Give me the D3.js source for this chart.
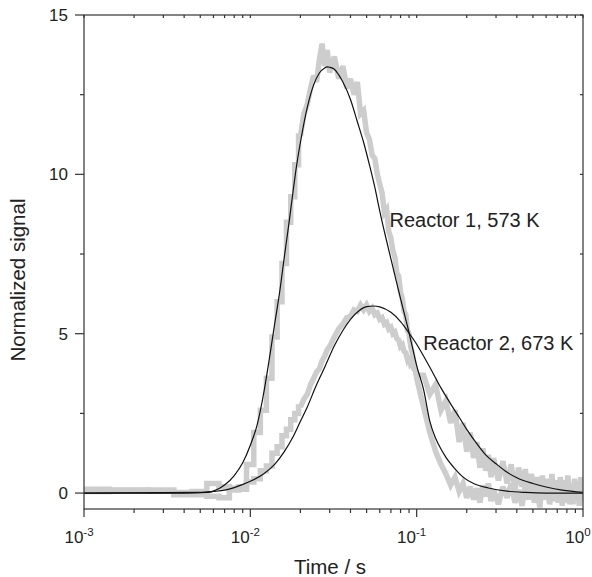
<!DOCTYPE html>
<html lang="en">
<head>
<meta charset="UTF-8">
<title>Reactor signals</title>
<script src="https://d3js.org/d3.v7.min.js"></script>
<style>
  body { margin: 0; background: #fff; }
  svg text { font-family: "Liberation Sans", Arial, sans-serif; fill: #222; }
</style>
</head>
<body>
<div id="chartArea"></div>
<script>
// sampling times of the measured curves (s)
const timeS = [
  0.001, 0.002, 0.003, 0.004, 0.005, 0.006, 0.007, 0.008, 0.009, 0.010,
  0.011, 0.012, 0.013, 0.014, 0.015, 0.016, 0.017, 0.018, 0.019, 0.020,
  0.021, 0.022, 0.023, 0.024, 0.025, 0.026, 0.027, 0.028, 0.029, 0.030,
  0.032, 0.034, 0.036, 0.038, 0.040, 0.042, 0.044, 0.046, 0.048, 0.050,
  0.052, 0.054, 0.056, 0.058, 0.060, 0.062, 0.064, 0.066, 0.068, 0.070,
  0.072, 0.074, 0.076, 0.078, 0.080, 0.082, 0.084, 0.086, 0.088, 0.090,
  0.092, 0.094, 0.096, 0.098, 0.100,
  0.11, 0.12, 0.13, 0.14, 0.15, 0.16, 0.17, 0.18, 0.19, 0.20,
  0.21, 0.22, 0.23, 0.24, 0.25, 0.26, 0.27, 0.28, 0.29,
  0.31, 0.33, 0.35, 0.37, 0.39, 0.41, 0.43, 0.45, 0.47, 0.49,
  0.51, 0.53, 0.55, 0.57, 0.59, 0.61, 0.63, 0.65, 0.67, 0.69,
  0.71, 0.73, 0.75, 0.77, 0.79, 0.81, 0.83, 0.85, 0.87, 0.89,
  0.91, 0.93, 0.95, 0.97, 0.99, 1.0
];

// measured signal, reactor 1 (573 K)
const reactor1Data = [
  0.12, 0.1, 0.06, 0.02, 0.05, 0.3, 0.2, 0.1, 0.12, 0.9,
  1.9, 2.6, 3.6, 4.9, 6.0, 7.2, 8.5, 9.3, 10.3, 11.2,
  11.9, 12.2, 12.7, 13.1, 12.9, 13.6, 14.1, 13.4, 13.9, 13.2,
  13.7, 13.0, 13.4, 12.7, 13.0, 12.5, 12.9, 11.9, 12.0, 11.3,
  11.1, 10.6, 10.5, 10.0, 9.7, 9.4, 8.8, 8.9, 8.2, 8.0,
  7.6, 7.4, 6.9, 6.8, 6.3, 6.1, 5.7, 5.6, 5.1, 5.0,
  4.6, 4.4, 4.1, 3.9, 3.6,
  2.7, 1.9, 1.3, 0.9, 0.6, 0.25, 0.5, 0.05, 0.3, -0.15,
  0.2, -0.2, 0.15, -0.3, 0.25, -0.1, 0.3, -0.25, 0.1,
  -0.35, 0.2, -0.15, 0.3, -0.3, 0.1, -0.4, 0.25, -0.2, 0.35,
  -0.3, 0.15, -0.45, 0.3, -0.2, 0.2, -0.35, 0.1, -0.25, 0.4,
  -0.3, 0.15, -0.4, 0.25, -0.15, 0.3, -0.35, 0.2, -0.3, 0.35,
  -0.2, 0.1, -0.4, 0.25, -0.25, 0.0
];

// measured signal, reactor 2 (673 K)
const reactor2Data = [
  0.05, 0.08, 0.1, -0.05, -0.05, -0.1, -0.15, 0.15, 0.2, 0.35,
  0.45, 0.7, 0.85, 1.25, 1.45, 1.8, 2.0, 2.3, 2.5, 2.7,
  2.95, 3.1, 3.4, 3.6, 3.8, 3.9, 4.15, 4.3, 4.5, 4.6,
  4.9, 5.15, 5.3, 5.5, 5.55, 5.75, 5.7, 5.9, 5.75, 5.9,
  5.7, 5.8, 5.6, 5.65, 5.45, 5.5, 5.3, 5.35, 5.15, 5.2,
  5.0, 5.05, 4.85, 4.8, 4.6, 4.65, 4.45, 4.4, 4.2, 4.3,
  4.05, 4.1, 3.9, 3.85, 3.7,
  3.7, 3.1, 3.4, 2.6, 2.9, 2.2, 2.6, 1.6, 2.2, 1.3,
  1.9, 1.1, 1.6, 0.8, 1.4, 0.7, 1.2, 0.5, 1.1,
  0.4, 1.0, 0.3, 0.9, 0.1, 0.8, 0.2, 0.75, -0.1, 0.6,
  0.0, 0.5, -0.2, 0.55, -0.1, 0.45, -0.25, 0.6, 0.0, 0.35,
  -0.3, 0.5, -0.1, 0.4, -0.3, 0.55, -0.15, 0.3, -0.35, 0.45,
  -0.2, 0.35, -0.3, 0.5, -0.1, 0.1
];

// model fits
const fit1Time = [0.001, 0.004, 0.0055, 0.006, 0.007, 0.008, 0.009, 0.010, 0.011, 0.012,
  0.013, 0.014, 0.015, 0.016, 0.017, 0.018, 0.019, 0.020, 0.022, 0.024,
  0.026, 0.028, 0.029, 0.030, 0.032, 0.034, 0.036, 0.040, 0.044, 0.048,
  0.052, 0.056, 0.060, 0.065, 0.070, 0.075, 0.080, 0.085, 0.090, 0.095,
  0.100, 0.11, 0.12, 0.13, 0.14, 0.15, 0.17, 0.19, 0.22, 0.27,
  0.35, 0.45, 0.6, 1.0];
const fit1 = [0, 0, 0.02, 0.06, 0.25, 0.55, 0.95, 1.5, 2.15, 3.1,
  4.2, 5.3, 6.3, 7.4, 8.4, 9.4, 10.3, 11.0, 12.1, 12.8,
  13.18, 13.34, 13.37, 13.36, 13.3, 13.12, 12.9, 12.35, 11.65, 11.0,
  10.3, 9.6, 8.85, 8.05, 7.35, 6.7, 6.1, 5.55, 5.03, 4.5,
  4.0, 3.25, 2.25, 1.72, 1.38, 1.12, 0.76, 0.5, 0.3, 0.16,
  0.06, 0.02, 0.0, 0.0];

const fit2Time = [0.001, 0.005, 0.006, 0.007, 0.008, 0.009, 0.010, 0.012, 0.014, 0.016,
  0.018, 0.020, 0.022, 0.025, 0.028, 0.032, 0.036, 0.040, 0.045, 0.050,
  0.055, 0.060, 0.070, 0.080, 0.090, 0.10, 0.11, 0.12, 0.14, 0.16,
  0.18, 0.20, 0.23, 0.26, 0.30, 0.35, 0.40, 0.50, 0.60, 0.75, 1.0];
const fit2 = [0, 0.02, 0.05, 0.09, 0.17, 0.27, 0.37, 0.6, 0.9, 1.3,
  1.75, 2.25, 2.7, 3.4, 3.95, 4.62, 5.1, 5.45, 5.72, 5.85,
  5.87, 5.84, 5.67, 5.38, 5.02, 4.67, 4.3, 3.95, 3.3, 2.8,
  2.38, 2.0, 1.55, 1.2, 0.92, 0.65, 0.48, 0.3, 0.19, 0.09, 0.02];

const yTicks = [0, 5, 10, 15];
const yMinorTicks = [2.5, 7.5, 12.5];
const xTickExps = [-3, -2, -1, 0];
const labels = [
  { text: "Reactor 1, 573 K", t: 0.0686, v: 8.35 },
  { text: "Reactor 2, 673 K", t: 0.1095, v: 4.5 }
];
// coarse 1 ms samples are drawn as steps up to this time, then as a jagged line
const stepUntil = 0.020;

const W = 592, H = 577;
const m = { left: 84, right: 583, top: 15, bottom: 509 };

const svg = d3.select("#chartArea").append("svg")
  .attr("width", W)
  .attr("height", H);

const x = d3.scaleLog().domain([0.001, 1]).range([m.left, m.right]);
const y = d3.scaleLinear().domain([-0.5, 15]).range([m.bottom, m.top]);

svg.append("clipPath").attr("id", "plotClip")
  .append("rect")
  .attr("x", m.left).attr("y", m.top)
  .attr("width", m.right - m.left).attr("height", m.bottom - m.top);

const plot = svg.append("g").attr("clip-path", "url(#plotClip)");

// measured data: thick grey
const stepLine = d3.line()
  .x(d => x(d[0]))
  .y(d => y(d[1]))
  .curve(d3.curveStep);
const jagLine = d3.line()
  .x(d => x(d[0]))
  .y(d => y(d[1]));

[reactor2Data, reactor1Data].forEach(function (vals) {
  const pts = timeS.map((t, i) => [t, vals[i]]);
  const early = pts.filter(p => p[0] <= stepUntil);
  const late = pts.filter(p => p[0] >= stepUntil);
  [[early, stepLine], [late, jagLine]].forEach(function (part) {
    plot.append("path")
      .datum(part[0])
      .attr("fill", "none")
      .attr("stroke", "#cdcdcd")
      .attr("stroke-width", 5.5)
      .attr("stroke-linejoin", "miter")
      .attr("stroke-miterlimit", 3)
      .attr("d", part[1]);
  });
});

// fits: thin black
const fitLine = d3.line()
  .x(d => x(d[0]))
  .y(d => y(d[1]))
  .curve(d3.curveMonotoneX);

[[fit1Time, fit1], [fit2Time, fit2]].forEach(function (f) {
  plot.append("path")
    .datum(f[0].map((t, i) => [t, f[1][i]]))
    .attr("fill", "none")
    .attr("stroke", "#111")
    .attr("stroke-width", 1.2)
    .attr("d", fitLine);
});

// frame and ticks
const axisColor = "#333";
const minorX = [];
xTickExps.slice(0, -1).forEach(function (e) {
  for (let k = 2; k <= 9; k++) minorX.push(k * Math.pow(10, e));
});
const majorX = xTickExps.map(e => Math.pow(10, e));

const axes = svg.append("g")
  .attr("stroke", axisColor)
  .attr("stroke-width", 1.2)
  .attr("fill", "none");

axes.append("rect")
  .attr("x", m.left).attr("y", m.top)
  .attr("width", m.right - m.left).attr("height", m.bottom - m.top);

// bottom: outward ticks
axes.selectAll(".bmaj").data(majorX).enter().append("line")
  .attr("x1", d => x(d)).attr("x2", d => x(d))
  .attr("y1", m.bottom).attr("y2", m.bottom + 8);
axes.selectAll(".bmin").data(minorX).enter().append("line")
  .attr("x1", d => x(d)).attr("x2", d => x(d))
  .attr("y1", m.bottom).attr("y2", m.bottom + 4);

// top: short inward ticks
axes.selectAll(".tmin").data(minorX.concat(majorX)).enter().append("line")
  .attr("x1", d => x(d)).attr("x2", d => x(d))
  .attr("y1", m.top).attr("y2", m.top + 3);

// left: outward ticks
axes.selectAll(".lmaj").data(yTicks).enter().append("line")
  .attr("x1", m.left - 9).attr("x2", m.left)
  .attr("y1", d => y(d)).attr("y2", d => y(d));
axes.selectAll(".lmin").data(yMinorTicks).enter().append("line")
  .attr("x1", m.left - 4).attr("x2", m.left)
  .attr("y1", d => y(d)).attr("y2", d => y(d));

// right: short inward ticks
axes.selectAll(".rmin").data(yTicks.concat(yMinorTicks)).enter().append("line")
  .attr("x1", m.right - 3).attr("x2", m.right)
  .attr("y1", d => y(d)).attr("y2", d => y(d));

// y tick labels
svg.selectAll(".ylab").data(yTicks).enter().append("text")
  .attr("x", m.left - 16)
  .attr("y", d => y(d))
  .attr("dy", "0.36em")
  .attr("text-anchor", "end")
  .style("font-size", "17px")
  .text(d => d);

// x tick labels: 10^n
const xl = svg.selectAll(".xlab").data(xTickExps).enter().append("text")
  .attr("x", d => x(Math.pow(10, d)) - 5)
  .attr("y", 543)
  .attr("text-anchor", "middle")
  .style("font-size", "17px");
xl.append("tspan").text("10");
xl.append("tspan")
  .attr("dy", -7)
  .style("font-size", "11.5px")
  .text(d => d === 0 ? "0" : "-" + Math.abs(d));

// axis titles
svg.append("text")
  .attr("x", 330).attr("y", 574)
  .attr("text-anchor", "middle")
  .style("font-size", "20.5px")
  .text("Time / s");

svg.append("text")
  .attr("transform", "translate(25,280) rotate(-90)")
  .attr("text-anchor", "middle")
  .style("font-size", "20.5px")
  .text("Normalized signal");

// curve labels
svg.selectAll(".clab").data(labels).enter().append("text")
  .attr("x", d => x(d.t))
  .attr("y", d => y(d.v))
  .style("font-size", "20px")
  .text(d => d.text);
</script>
</body>
</html>
